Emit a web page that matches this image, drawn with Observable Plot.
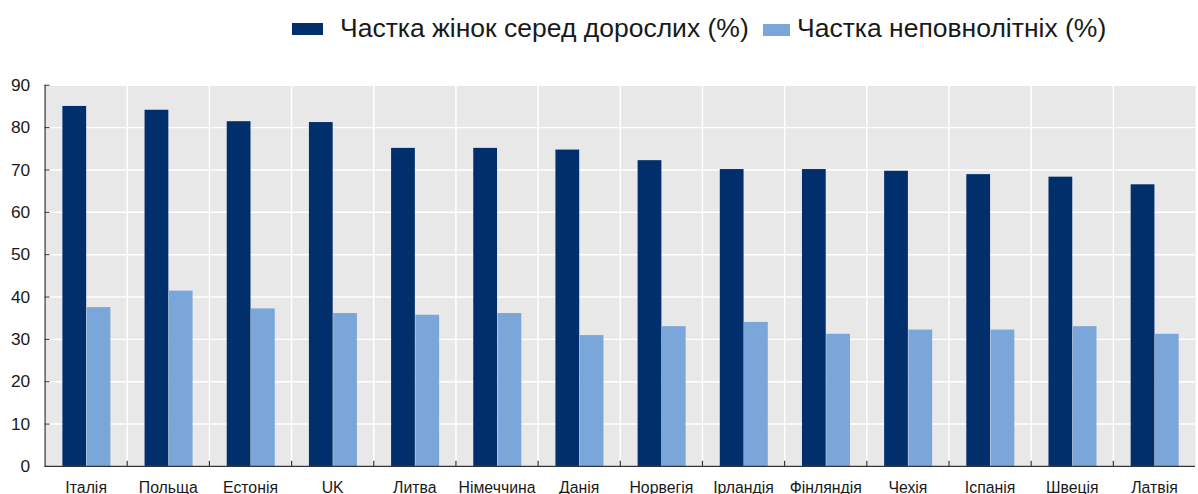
<!DOCTYPE html>
<html><head><meta charset="utf-8">
<script src="https://cdn.jsdelivr.net/npm/d3@7"></script>
<script src="https://cdn.jsdelivr.net/npm/@observablehq/plot@0.6"></script>
<style>
html,body{margin:0;padding:0;background:#fff;overflow:hidden;width:1198px;height:494px}
#legend{position:relative;height:62px;font-family:"Liberation Sans",Arial,sans-serif;color:#1a1a1a}
.sw{position:absolute;height:12px}
.lt{position:absolute;font-size:26.5px;line-height:26px;white-space:nowrap}
#chart svg{display:block}
</style></head><body>
<div id="legend"></div>
<div id="chart"></div>
<script>
const countries = ["Італія","Польща","Естонія","UK","Литва","Німеччина","Данія","Норвегія","Ірландія","Фінляндія","Чехія","Іспанія","Швеція","Латвія"];
const adults = [85.0, 84.1, 81.4, 81.2, 75.1, 75.1, 74.7, 72.2, 70.1, 70.1, 69.7, 68.9, 68.3, 66.5];
const minors = [37.5, 41.4, 37.2, 36.1, 35.7, 36.1, 30.9, 33.0, 34.0, 31.2, 32.2, 32.2, 33.0, 31.2];
const seriesNames = ["Частка жінок серед дорослих (%)", "Частка неповнолітніх (%)"];
const seriesColors = ["#002f6c", "#7ba6da"];
const yTicks = [0, 10, 20, 30, 40, 50, 60, 70, 80, 90];

// legend (HTML, above the SVG)
const legend = document.getElementById("legend");
const legendItems = [
  {sw: {left: 292, top: 23, width: 31}, txt: {left: 340, top: 14.5}},
  {sw: {left: 763, top: 24, width: 27}, txt: {left: 797, top: 14.5}}
];
legendItems.forEach((it, i) => {
  const s = document.createElement("div");
  s.className = "sw";
  s.style.left = it.sw.left + "px"; s.style.top = it.sw.top + "px"; s.style.width = it.sw.width + "px";
  s.style.background = seriesColors[i];
  legend.appendChild(s);
  const t = document.createElement("div");
  t.className = "lt";
  t.style.left = it.txt.left + "px"; t.style.top = it.txt.top + "px";
  t.textContent = seriesNames[i];
  legend.appendChild(t);
});

const adultRows = countries.map((c, i) => ({country: c, value: adults[i]}));
const minorRows = countries.map((c, i) => ({country: c, value: minors[i]}));
const half = 41.5;

const chart = Plot.plot({
  width: 1210,
  height: 440,
  marginTop: 23,
  marginBottom: 32,
  marginLeft: 45,
  marginRight: 3,
  style: {fontFamily: "'Liberation Sans', Arial, sans-serif", color: "#1a1a1a", background: "#fff", overflow: "visible"},
  x: {type: "band", domain: countries, paddingInner: 0, paddingOuter: 0, round: false, axis: null, label: null},
  y: {domain: [0, 90], ticks: yTicks, axis: null, label: null},
  marks: [
    Plot.frame({fill: "#e8e8e8", stroke: "none"}),
    Plot.gridY(yTicks, {stroke: "#fff", strokeOpacity: 1, strokeWidth: 1.5}),
    Plot.ruleX(countries.slice(1), {x: d => d, dx: -half, stroke: "#fff", strokeOpacity: 1, strokeWidth: 1.5}),
    Plot.barY(adultRows, {x: "country", y: "value", fill: seriesColors[0], insetLeft: 18, insetRight: 41}),
    Plot.barY(minorRows, {x: "country", y: "value", fill: seriesColors[1], insetLeft: 42.5, insetRight: 16.5}),
    Plot.ruleY([0], {stroke: "#333", strokeWidth: 1.2}),
    Plot.ruleX([countries[0]], {x: d => d, dx: -half, stroke: "#333", strokeWidth: 1.2}),
    Plot.ruleX(countries.slice(1), {x: d => d, dx: -half, y1: 0, y2: 1.2, stroke: "#333", strokeWidth: 1.2}),
    Plot.axisY({ticks: yTicks, tickSize: -5, tickPadding: 20, fontSize: 17.5, stroke: "#333", label: null}),
    Plot.axisX({tickSize: 0, tickPadding: 15, fontSize: 16, label: null})
  ]
});
document.getElementById("chart").appendChild(chart);
</script>
</body></html>
